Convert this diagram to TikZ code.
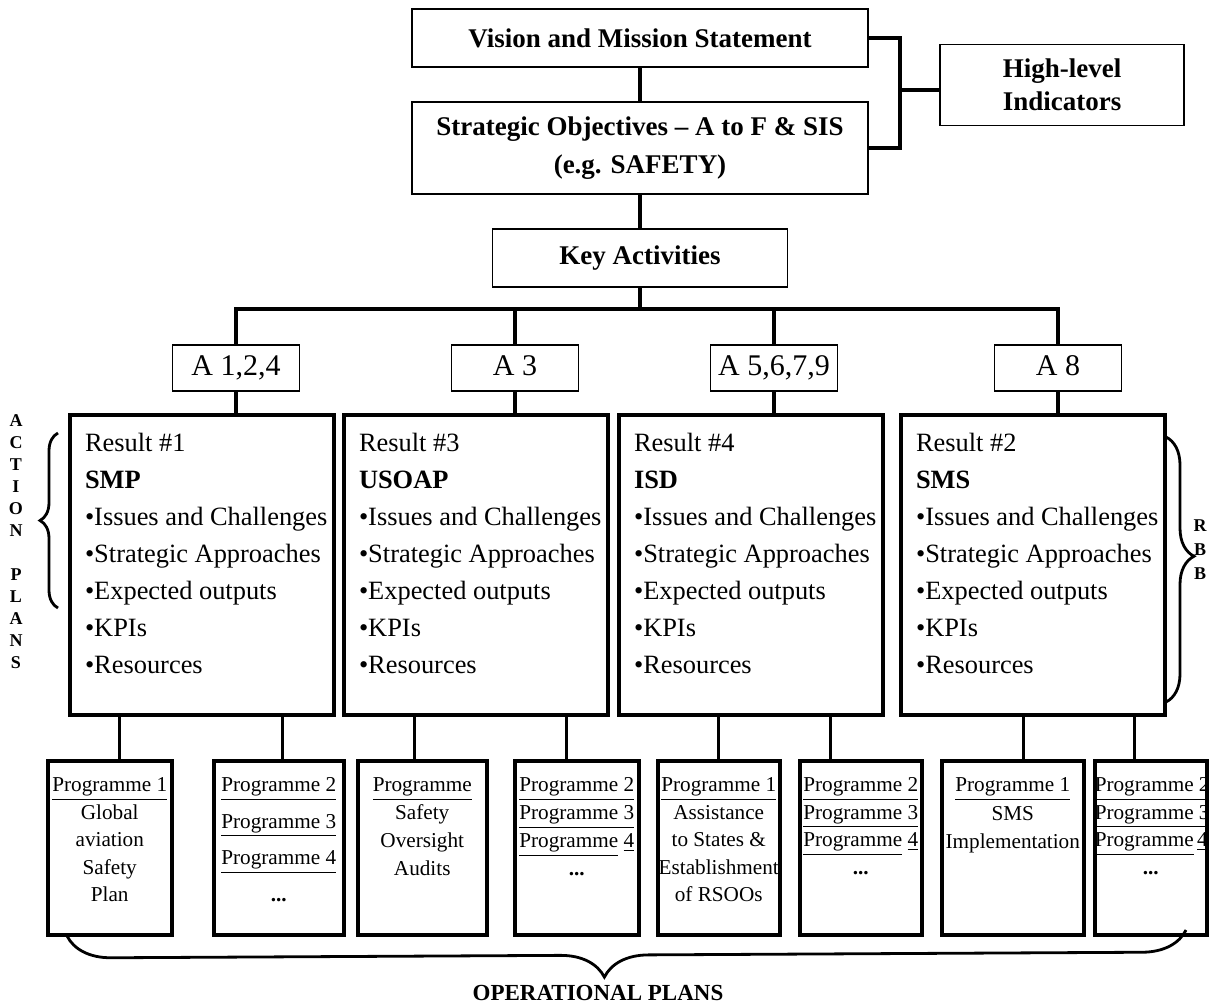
\documentclass[tikz,border=0pt]{standalone}
\usepackage{fontspec}
\setmainfont{Liberation Serif}
\usetikzlibrary{calc,decorations.pathreplacing}

\newcommand{\reslines}[2]{%
  \parbox[c][150pt][t]{132pt}{\raggedright\leftskip=7.5pt\vspace*{9pt}%
    Result \##1\\\textbf{#2}\\•Issues and Challenges\\•Strategic Approaches\\%
    •Expected outputs\\•KPIs\\•Resources}}
\newcommand{\proglines}[3]{%
  \parbox[c][87pt][t]{#1}{\fontsize{10.6}{#2}\selectfont\centering\vspace*{8.5pt}#3}}

\begin{document}
\begin{tikzpicture}[x=0.5pt, y=-0.5pt,
    topbox/.style={draw, line width=0.75pt, align=center,
      font=\fontsize{13.5}{19}\selectfont\bfseries},
    abox/.style={draw, line width=0.75pt, minimum width=63.5pt,
      minimum height=23pt, text height=10.5pt, text depth=3pt,
      font=\fontsize{15}{18}\selectfont},
    resbox/.style={draw, line width=2pt, anchor=north west, inner sep=0pt,
      font=\fontsize{13.2}{18.5}\selectfont},
    progbox/.style={draw, line width=1.75pt, anchor=north west, inner sep=0pt},
    link/.style={line width=1.6pt},
    side/.style={align=center, font=\fontsize{9}{11}\selectfont\bfseries},
    curly/.style={decorate, line width=1.4pt}]
  \useasboundingbox (0,0) rectangle (1209,1007);

  %Top boxes
  \node[topbox, minimum width=228pt, minimum height=29pt] (Vision) at (640,38)
    {Vision and Mission Statement};
  \node[topbox, minimum width=228pt, minimum height=46pt] (Strategy) at (640,148)
    {Strategic Objectives -- A to F \& SIS\\(e.g. SAFETY)};
  \node[topbox, minimum width=122pt, minimum height=40.5pt,
    font=\fontsize{13.5}{16.5}\selectfont\bfseries] (Indicators) at (1062,85)
    {High-level\\Indicators};
  \node[topbox, minimum width=147.5pt, minimum height=29pt] (KeyAct) at (640,258)
    {Key Activities};

  %Activities
  \node[abox] (Act124) at (236,368) {A 1,2,4};
  \node[abox] (Act3) at (515,368) {A 3};
  \node[abox] (Act5679) at (774,368) {A 5,6,7,9};
  \node[abox] (Act8) at (1058,368) {A 8};

  %Results
  \node[resbox] (Result1) at (68,413) {\reslines{1}{SMP}};
  \node[resbox] (Result3) at (342,413) {\reslines{3}{USOAP}};
  \node[resbox] (Result4) at (617,413) {\reslines{4}{ISD}};
  \node[resbox] (Result2) at (899,413) {\reslines{2}{SMS}};

  %Programmes
  \node[progbox] (ProgA) at (46,759) {\proglines{62pt}{13.75pt}
    {\underline{Programme 1}\\Global\\aviation\\Safety\\Plan}};
  \node[progbox] (ProgB) at (212,759) {\proglines{65pt}{18.25pt}
    {\underline{Programme 2}\\\underline{Programme 3}\\\underline{Programme 4}\\\textbf{...}}};
  \node[progbox] (ProgC) at (356,759) {\proglines{64.5pt}{14pt}
    {\underline{Programme}\\Safety\\Oversight\\Audits}};
  \node[progbox] (ProgD) at (513,759) {\proglines{62pt}{14pt}
    {\underline{Programme 2}\\\underline{Programme 3}\\\underline{Programme}~\underline{4}\\\textbf{...}}};
  \node[progbox] (ProgE) at (656,759) {\proglines{61pt}{13.75pt}
    {\underline{Programme 1}\\Assistance\\to States \&\\Establishment\\of RSOOs}};
  \node[progbox] (ProgF) at (798,759) {\proglines{61pt}{13.75pt}
    {\underline{Programme 2}\\\underline{Programme 3}\\\underline{Programme}~\underline{4}\\\textbf{...}}};
  \node[progbox] (ProgG) at (940,759) {\proglines{71pt}{14.25pt}
    {\underline{Programme 1}\\SMS\\Implementation}};
  \node[progbox] (ProgH) at (1093,759) {\proglines{56pt}{13.75pt}
    {\underline{Programme 2}\\\underline{Programme 3}\\\underline{Programme}~\underline{4}\\\textbf{...}}};

  %Links
  \coordinate (Join) at (900,90);
  \coordinate (Bus) at (640,309);
  \draw[link] (Vision) -- (Strategy);
  \draw[link] (Strategy) -- (KeyAct);
  \draw[link] (Vision.east) -| (Join) |- (Strategy.east);
  \draw[link] (Join) -- (Indicators.west |- Join);
  \draw[link] (KeyAct) -- (Bus);
  \draw[link] (Act124) |- (Bus) -| (Act8);
  \draw[link] (Act3) -- (Act3 |- Bus);
  \draw[link] (Act5679) -- (Act5679 |- Bus);
  \foreach \a/\r in {Act124/Result1, Act3/Result3, Act5679/Result4, Act8/Result2}
    \draw[link] (\a) -- (\a |- \r.north);
  \foreach \p/\r/\s in {ProgA/Result1/5pt, ProgB/Result1/2pt, ProgC/Result3/-3.75pt,
      ProgD/Result3/-5pt, ProgE/Result4/0pt, ProgF/Result4/-15pt,
      ProgG/Result2/5.5pt, ProgH/Result2/-8pt}
    \draw[link] ([xshift=\s]\p.north) -- ($(\p.north |- \r.south)+(\s,0)$);

  %Braces
  \draw[curly, decoration={brace, amplitude=9pt}] (58,608) -- (58,433);
  \draw[curly, decoration={brace, amplitude=14pt, aspect=0.45}] (1166,437) -- (1166,702);
  \draw[curly, decoration={brace, amplitude=22pt, aspect=0.52}] (1186,930) -- (67,936);

  \node[side] (ActionLabel) at (16,542) {A\\C\\T\\I\\O\\N\\[11pt]P\\L\\A\\N\\S};
  \node[side, font=\fontsize{9}{12}\selectfont\bfseries] (RbbLabel) at (1200,550) {R\\B\\B};
  \node[font=\fontsize{11.5}{13}\selectfont\bfseries] (OpsLabel) at (598,993) {OPERATIONAL PLANS};
\end{tikzpicture}
\end{document}
